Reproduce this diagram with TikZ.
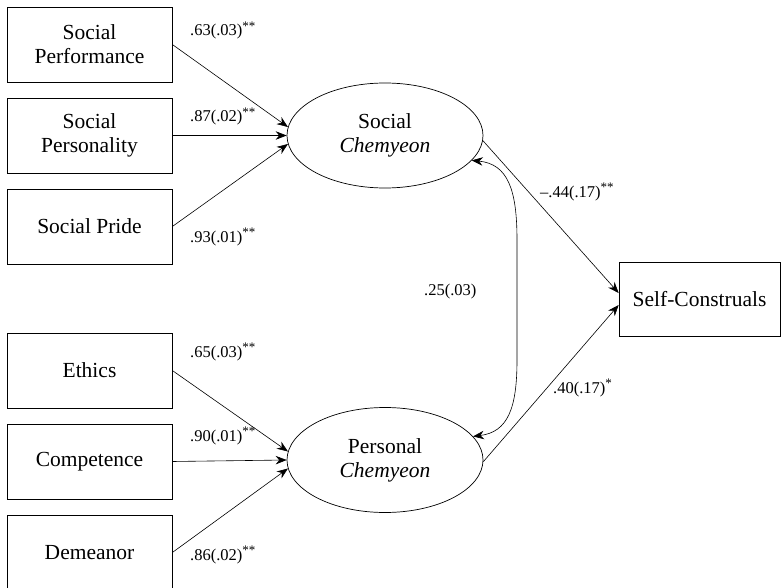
\documentclass[tikz,border=0pt]{standalone}
\usepackage{fontspec}
\setmainfont{Liberation Serif}
\usetikzlibrary{arrows.meta,calc,shapes.geometric}
\newcommand{\sigstar}[1]{\raisebox{5.5pt}{\fontsize{13}{13}\selectfont #1}}
\begin{document}
\begin{tikzpicture}[x=1pt,y=-1pt,
  obs/.style={draw,line width=0.7pt,minimum width=165pt,minimum height=75pt,align=center,font=\fontsize{21.5}{24}\selectfont,inner sep=0pt},
  lat/.style={draw,ellipse,line width=0.7pt,minimum width=196pt,minimum height=105pt,align=center,font=\fontsize{21.5}{24}\selectfont,inner sep=0pt},
  arr/.style={line width=0.6pt,-{Stealth[length=11pt,width=8.5pt]}},
  cov/.style={line width=0.6pt,{Stealth[length=11pt,width=8.5pt]}-{Stealth[length=11pt,width=8.5pt]}},
  lbl/.style={anchor=base west,inner sep=0pt,font=\fontsize{16.5}{18}\selectfont}]
\useasboundingbox (0,0) rectangle (781,588);
\node[obs] (sperf) at (89.5,44.5) {Social\\Performance};
\node[obs] (spers) at (89.5,135.5) {Social\\Personality};
\node[obs] (spride) at (89.5,226.5) {Social Pride};
\node[obs] (eth) at (89.5,370.5) {Ethics};
\node[obs] (comp) at (89.5,461.5) {Competence};
\node[obs] (dem) at (89.5,552.5) {Demeanor};
\node[lat] (soc) at (385,135.5) {Social\\\textit{Chemyeon}};
\node[lat] (per) at (385,460) {Personal\\\textit{Chemyeon}};
\node[obs,minimum width=161pt,minimum height=74pt] (sc) at (699.5,299) {Self-Construals};
\draw[arr] (sperf.east) -- (soc.175);
\draw[arr] (spers.east) -- (soc.west);
\draw[arr] (spride.east) -- (soc.185);
\draw[arr] (eth.east) -- (per.175);
\draw[arr] (comp.east) -- (per.west);
\draw[arr] (dem.east) -- (per.185);
\draw[arr] (soc.-3) -- ([yshift=6pt]sc.west);
\draw[arr] (per.-1) -- ([yshift=-6pt]sc.west);
\draw[cov] (soc.-16) .. controls (508,164) and (517,190) .. (517,240) -- (517,360) .. controls (517,408) and (508,432) .. (per.15);
\node[lbl] (l1) at (190,36) {.63(.03)\sigstar{**}};
\node[lbl] (l2) at (190,122) {.87(.02)\sigstar{**}};
\node[lbl] (l3) at (190,242) {.93(.01)\sigstar{**}};
\node[lbl] (l4) at (190,357) {.65(.03)\sigstar{**}};
\node[lbl] (l5) at (190,441) {.90(.01)\sigstar{**}};
\node[lbl] (l6) at (190,560) {.86(.02)\sigstar{**}};
\node[lbl] (l7) at (540,197) {\textendash.44(.17)\sigstar{**}};
\node[lbl] (l8) at (424,295) {.25(.03)};
\node[lbl] (l9) at (553,393) {.40(.17)\sigstar{*}};
\end{tikzpicture}
\end{document}
